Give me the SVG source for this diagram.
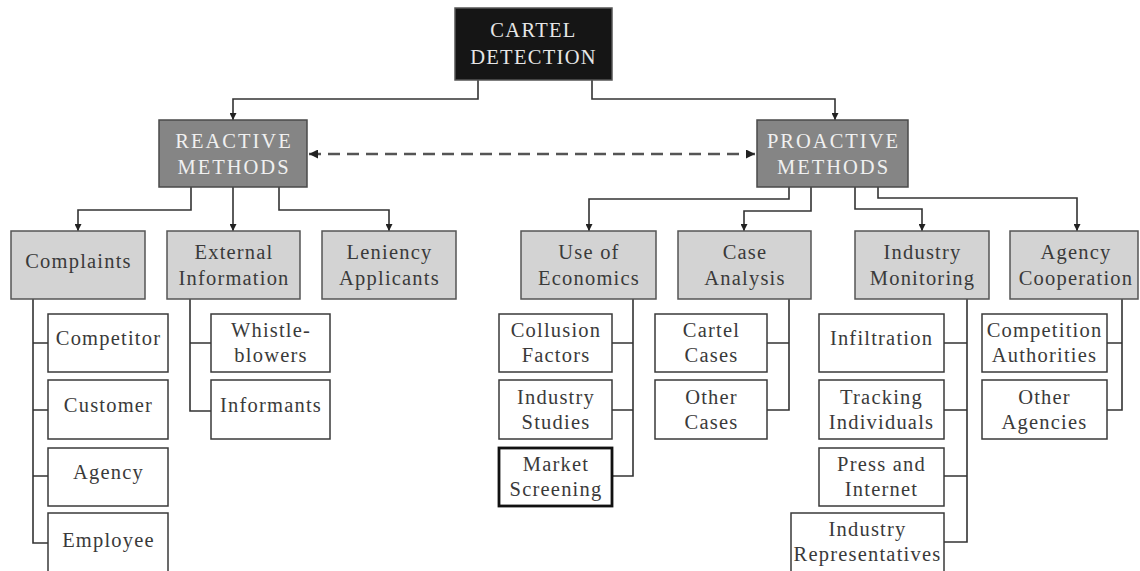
<svg xmlns="http://www.w3.org/2000/svg" width="1140" height="571" viewBox="0 0 1140 571">
<style>
.t{font-family:"Liberation Serif","Times New Roman",serif;text-anchor:middle}
.top rect{fill:#151515;stroke:#555;stroke-width:1.5}
.top text{fill:#e6e6e6;font-size:20.5px;letter-spacing:1.3px}
.mid rect{fill:#858585;stroke:#4a4a4a;stroke-width:1.5}
.mid text{fill:#f0f0f0;font-size:20.5px;letter-spacing:2px}
.cat rect{fill:#d3d3d3;stroke:#555;stroke-width:1.5}
.cat text{fill:#3a3a3a;font-size:20.5px;letter-spacing:1.2px}
.leaf rect{fill:#fff;stroke:#3a3a3a;stroke-width:1.5}
.leaf text{fill:#3a3a3a;font-size:20.5px;letter-spacing:1.2px}
.conn path{fill:none;stroke:#333;stroke-width:1.6}
.conn path.dash{stroke:#555;stroke-width:2.5;stroke-dasharray:12 7}
</style>
<defs>
<marker id="ah" viewBox="0 0 10 10" refX="10" refY="5" markerWidth="7" markerHeight="7" orient="auto" markerUnits="userSpaceOnUse">
<path d="M0,0 L10,5 L0,10 Z" fill="#222"/>
</marker>
<marker id="ahd" viewBox="0 0 10 10" refX="10" refY="5" markerWidth="9" markerHeight="9" orient="auto" markerUnits="userSpaceOnUse">
<path d="M0,0 L10,5 L0,10 Z" fill="#222"/>
</marker>
<marker id="ahs" viewBox="0 0 10 10" refX="0" refY="5" markerWidth="9" markerHeight="9" orient="auto" markerUnits="userSpaceOnUse">
<path d="M10,0 L0,5 L10,10 Z" fill="#222"/>
</marker>
</defs>

<g id="connectors" class="conn">
<path d="M478,80 V99 H233 V120" marker-end="url(#ah)"/>
<path d="M592,80 V99 H835 V120" marker-end="url(#ah)"/>
<path class="dash" d="M309,154 H755" marker-start="url(#ahs)" marker-end="url(#ahd)"/>
<path d="M191,187 V210 H78 V231" marker-end="url(#ah)"/>
<path d="M233,187 V231" marker-end="url(#ah)"/>
<path d="M279,187 V210 H389 V231" marker-end="url(#ah)"/>
<path d="M789,187 V199 H589 V231" marker-end="url(#ah)"/>
<path d="M811,187 V211 H744 V231" marker-end="url(#ah)"/>
<path d="M855,187 V209 H922 V231" marker-end="url(#ah)"/>
<path d="M878,187 V198 H1077 V231" marker-end="url(#ah)"/>
<path d="M33,299 V543 H48 M33,343 H48 M33,410 H48 M33,476 H48"/>
<path d="M190,299 V411 H211 M190,343 H211"/>
<path d="M633,299 V476 H612 M633,343 H612 M633,410 H612"/>
<path d="M789,299 V410 H767 M789,343 H767"/>
<path d="M967,299 V542 H944 M967,343 H944 M967,410 H944 M967,476 H944"/>
<path d="M1122,299 V410 H1107 M1122,343 H1107"/>
</g>

<g id="cartel-detection" class="top t"><rect x="455" y="8" width="157" height="72"/><text x="533.5" y="37">CARTEL</text><text x="533.5" y="64">DETECTION</text></g>
<g id="reactive-methods" class="mid t"><rect x="159" y="120" width="148" height="67"/><text x="234" y="148">REACTIVE</text><text x="234" y="174">METHODS</text></g>
<g id="proactive-methods" class="mid t"><rect x="757" y="120" width="151" height="67"/><text x="833.5" y="148">PROACTIVE</text><text x="833.5" y="174">METHODS</text></g>

<g id="complaints" class="cat t"><rect x="11" y="231" width="134" height="68"/><text x="78.5" y="268">Complaints</text></g>
<g id="external-information" class="cat t"><rect x="167" y="231" width="133" height="68"/><text x="234" y="259">External</text><text x="234" y="285">Information</text></g>
<g id="leniency-applicants" class="cat t"><rect x="322" y="231" width="134" height="68"/><text x="389.5" y="259">Leniency</text><text x="389.5" y="285">Applicants</text></g>
<g id="use-of-economics" class="cat t"><rect x="521" y="231" width="135" height="68"/><text x="589" y="259">Use of</text><text x="589" y="285">Economics</text></g>
<g id="case-analysis" class="cat t"><rect x="678" y="231" width="133" height="68"/><text x="745" y="259">Case</text><text x="745" y="285">Analysis</text></g>
<g id="industry-monitoring" class="cat t"><rect x="855" y="231" width="134" height="68"/><text x="922.5" y="259">Industry</text><text x="922.5" y="285">Monitoring</text></g>
<g id="agency-cooperation" class="cat t"><rect x="1010" y="231" width="128" height="68"/><text x="1076" y="259">Agency</text><text x="1076" y="285">Cooperation</text></g>

<g id="competitor" class="leaf t"><rect x="48" y="314" width="120" height="58"/><text x="108.5" y="345">Competitor</text></g>
<g id="customer" class="leaf t"><rect x="48" y="380" width="120" height="59"/><text x="108.5" y="412">Customer</text></g>
<g id="agency" class="leaf t"><rect x="48" y="448" width="120" height="58"/><text x="108.5" y="479">Agency</text></g>
<g id="employee" class="leaf t"><rect x="48" y="513" width="120" height="62"/><text x="108.5" y="547">Employee</text></g>

<g id="whistle-blowers" class="leaf t"><rect x="211" y="314" width="119" height="58"/><text x="271" y="337">Whistle-</text><text x="271" y="362">blowers</text></g>
<g id="informants" class="leaf t"><rect x="211" y="380" width="119" height="59"/><text x="271" y="412">Informants</text></g>

<g id="collusion-factors" class="leaf t"><rect x="499" y="314" width="113" height="58"/><text x="556" y="337">Collusion</text><text x="556" y="362">Factors</text></g>
<g id="industry-studies" class="leaf t"><rect x="499" y="380" width="113" height="59"/><text x="556" y="404">Industry</text><text x="556" y="429">Studies</text></g>
<g id="market-screening" class="leaf t"><rect x="499" y="448" width="113" height="58" style="stroke:#111;stroke-width:2.8"/><text x="556" y="471">Market</text><text x="556" y="496">Screening</text></g>

<g id="cartel-cases" class="leaf t"><rect x="655" y="314" width="112" height="58"/><text x="711.5" y="337">Cartel</text><text x="711.5" y="362">Cases</text></g>
<g id="other-cases" class="leaf t"><rect x="655" y="380" width="112" height="59"/><text x="711.5" y="404">Other</text><text x="711.5" y="429">Cases</text></g>

<g id="infiltration" class="leaf t"><rect x="819" y="314" width="125" height="58"/><text x="881.5" y="345">Infiltration</text></g>
<g id="tracking-individuals" class="leaf t"><rect x="819" y="380" width="125" height="59"/><text x="881.5" y="404">Tracking</text><text x="881.5" y="429">Individuals</text></g>
<g id="press-and-internet" class="leaf t"><rect x="819" y="448" width="125" height="58"/><text x="881.5" y="471">Press and</text><text x="881.5" y="496">Internet</text></g>
<g id="industry-representatives" class="leaf t"><rect x="791" y="513" width="153" height="62"/><text x="867.5" y="536">Industry</text><text x="867.5" y="561">Representatives</text></g>

<g id="competition-authorities" class="leaf t"><rect x="982" y="314" width="125" height="58"/><text x="1044.5" y="337">Competition</text><text x="1044.5" y="362">Authorities</text></g>
<g id="other-agencies" class="leaf t"><rect x="982" y="380" width="125" height="59"/><text x="1044.5" y="404">Other</text><text x="1044.5" y="429">Agencies</text></g>
</svg>
